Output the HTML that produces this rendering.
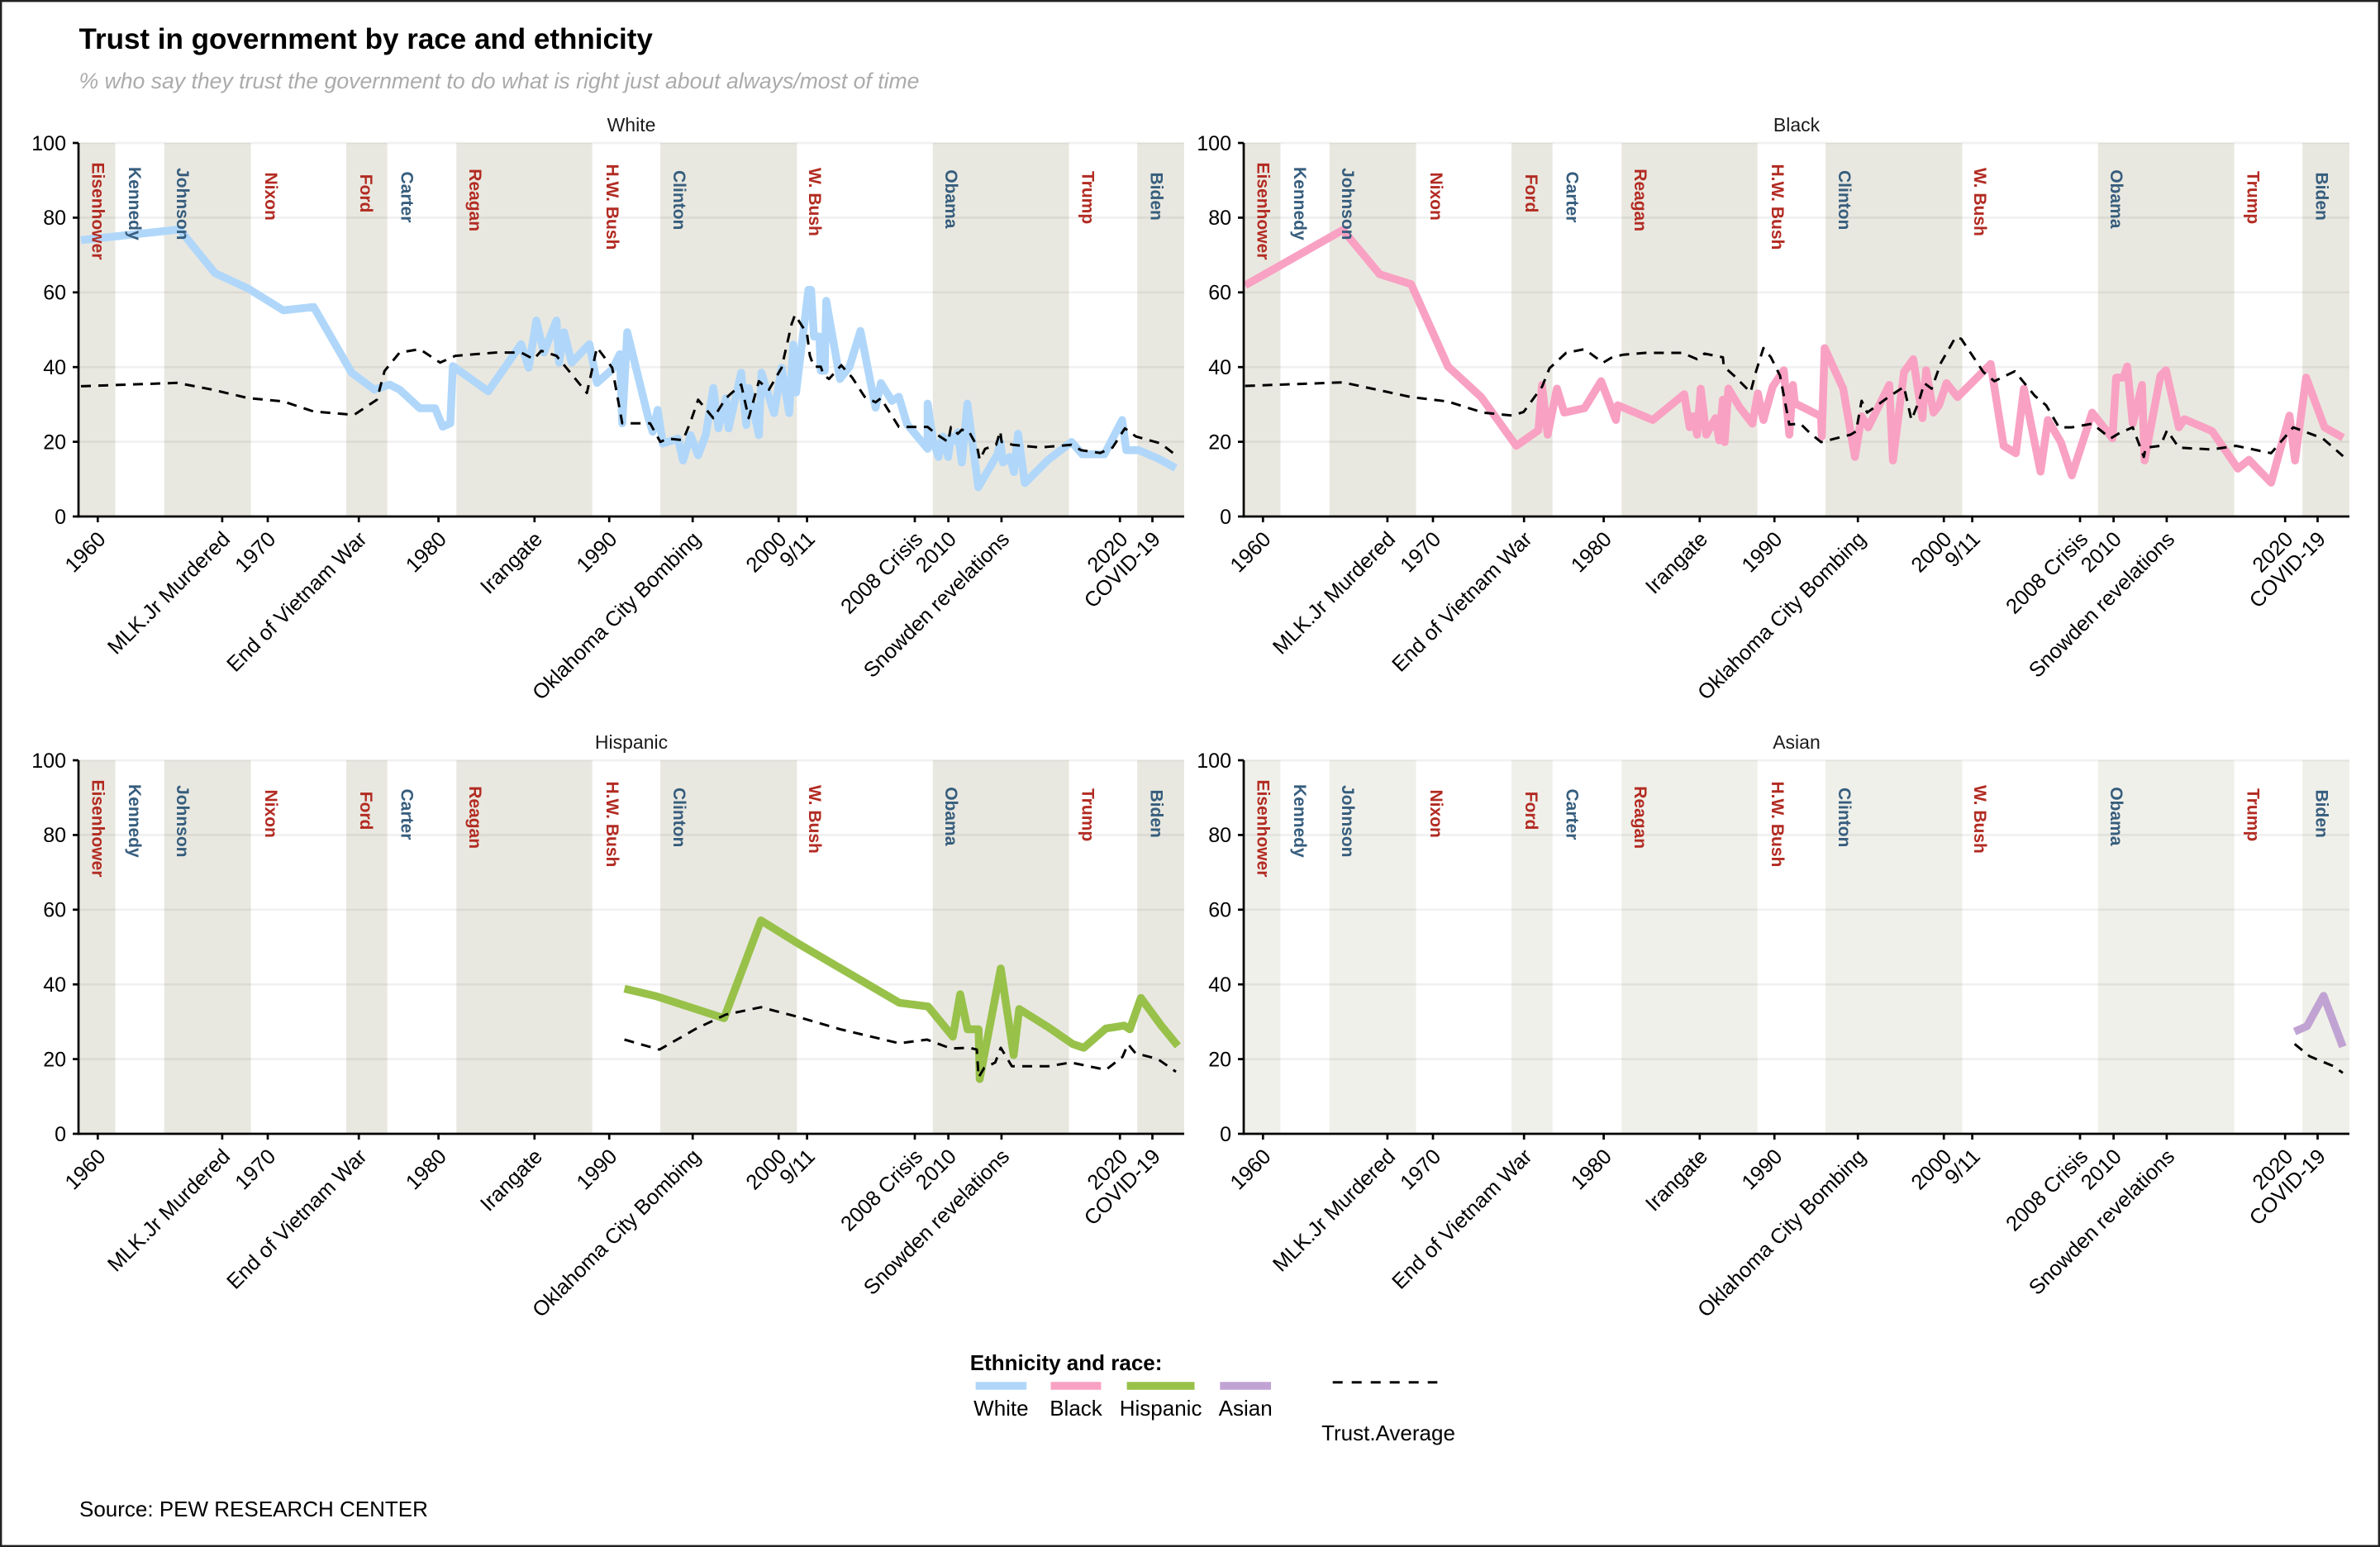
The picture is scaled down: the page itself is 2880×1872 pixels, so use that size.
<!DOCTYPE html>
<html><head><meta charset="utf-8"><style>
html,body{margin:0;padding:0;background:#fff;}
svg{display:block;font-family:"Liberation Sans",Arial,sans-serif;}
.sh rect{fill:#E9E8E0;}
.sh4 rect{fill:#F0F0EA;}
.gr line{stroke:#000;stroke-opacity:0.055;stroke-width:2.7;}
.ser{fill:none;stroke-width:9.5;stroke-linejoin:round;stroke-linecap:butt;}
.avg{fill:none;stroke:#000;stroke-width:3;stroke-dasharray:12 9;stroke-linejoin:round;}
.R{fill:#B22B22;font-size:21px;font-weight:bold;}
.D{fill:#365D7D;font-size:21px;font-weight:bold;}
.ax line{stroke:#000;stroke-width:2.7;}
.yl text{font-size:25px;text-anchor:end;fill:#000;}
.xl text{font-size:25.5px;text-anchor:end;fill:#000;}
.st{font-size:23px;text-anchor:middle;fill:#1a1a1a;}
</style></head><body>
<svg width="2880" height="1872" viewBox="0 0 2880 1872" xmlns="http://www.w3.org/2000/svg">
<rect x="0" y="0" width="2880" height="1872" fill="#fff"/>
<rect x="1.2" y="1.2" width="2877.6" height="1869.6" fill="none" stroke="#222" stroke-width="2.4"/>
<text x="95.5" y="59" font-size="35" font-weight="bold" fill="#000">Trust in government by race and ethnicity</text>
<text x="95.5" y="107" font-size="26.6" font-style="italic" fill="#ABABAB">% who say they trust the government to do what is right just about always/most of time</text>

<!-- PANEL 1 White -->
<g transform="translate(0,0)">
<g class="sh"><rect x="95" y="173" width="44.5" height="452"/><rect x="198.7" y="173" width="104.9" height="452"/><rect x="419" y="173" width="49.7" height="452"/><rect x="552.3" y="173" width="164.4" height="452"/><rect x="799" y="173" width="165.5" height="452"/><rect x="1128.8" y="173" width="164.8" height="452"/><rect x="1376.2" y="173" width="56.8" height="452"/></g>
<g class="gr"><line x1="95" x2="1433" y1="173" y2="173"/><line x1="95" x2="1433" y1="263.4" y2="263.4"/><line x1="95" x2="1433" y1="353.8" y2="353.8"/><line x1="95" x2="1433" y1="444.2" y2="444.2"/><line x1="95" x2="1433" y1="534.6" y2="534.6"/></g>
<polyline class="ser" stroke="#B0D7FA" points="98,290.6 217.3,277.6 260.2,330.6 300,349 342.8,375.5 379.6,371.5 425.5,451 453,471.5 471.4,465.4 483.6,471.5 508,494 526.5,494 535.7,516.4 544.9,512.3 548,443 590.8,473.5 630.6,416.4 639.7,445 649,387.8 658,426.6 673.4,387.8 676.5,438.8 682.6,402 691.8,438.8 713.2,416.4 722.4,463.3 740.8,447 750,428.6 753,512.3 759,402 783.6,502 789.7,522.5 795.9,496 802,536.8 820.3,530.7 826.5,557.2 835.7,526.6 844.8,551 854,526.6 863.2,469.4 869.3,518.4 878.5,481.7 881.6,518.4 896.9,451 903,514.3 906,469.4 918.3,526.6 921.4,451 936.7,500 945.8,445 955,500 960,417 963.3,475 978.2,350.8 981.5,350.8 984.9,407.2 991.5,407.2 993.2,448.6 998,448.6 999.8,364 1016.4,458.6 1028,443.7 1041.2,400.5 1059.5,493.4 1066,463.5 1079.4,485.1 1087.7,480.1 1097.6,513.3 1122.5,543.1 1122.5,488.4 1129,533 1135.7,553 1140.7,528.2 1147.4,553 1150.7,528.2 1155.6,533.2 1159,523.2 1163.9,559.7 1170.6,488.4 1183.8,589.6 1207,549.8 1210.4,534.8 1213.7,559.7 1222,553 1227,571.3 1231.9,524.9 1240.2,584.6 1268.4,556.4 1296.6,534.8 1309.8,549.8 1336.4,549.8 1357.9,508.3 1362.9,544.8 1377.8,544.8 1401,554.7 1422.6,566.3"/>
<polyline class="avg" points="98,467.4 214.3,463.3 257,471.5 300,481.7 342.8,485.8 379.6,498 428.5,502 456,483.7 465.3,449 483.6,426.6 508,422.5 532.6,438.8 551,430.6 600,426.6 630.6,426.6 645.9,434.7 655,424.5 673.4,430.6 691.8,453 710.2,475.5 722.4,420.4 740.8,445 753,512.3 786.7,512.3 799,534.7 808,530.7 826.5,532.7 835.7,510.3 844.8,483.7 863.2,506 878.5,481.7 896.9,465.4 906,506 918.3,461.3 930.5,471.5 945.8,445 958,391.9 962,381 976.6,403.9 980,430.4 984.9,443.7 993.2,443.7 996.5,453.6 1003.1,458.6 1018,442 1031.3,457 1046.2,480.1 1059.5,486.8 1066.1,481.8 1071,490 1087.7,516.6 1122.5,516.6 1132.4,524.9 1147.4,534.8 1150.7,516.6 1159,524.9 1164,520 1172.2,521.6 1182.2,539.8 1185.5,556.4 1192.1,543.1 1205.4,538.2 1210.4,521.6 1212,534.8 1225.3,538.2 1258.4,541.5 1296.6,538.2 1308.2,544.8 1331.4,548.1 1346.3,541.5 1361.2,518.3 1374.5,528.2 1404.3,536.5 1419.3,548.1"/>
<g>
<text class="R" transform="translate(111.7,196.5) rotate(90)">Eisenhower</text>
<text class="D" transform="translate(155.8,202) rotate(90)">Kennedy</text>
<text class="D" transform="translate(214.1,203) rotate(90)">Johnson</text>
<text class="R" transform="translate(321.1,208.5) rotate(90)">Nixon</text>
<text class="R" transform="translate(435.9,210.7) rotate(90)">Ford</text>
<text class="D" transform="translate(485.5,207.5) rotate(90)">Carter</text>
<text class="R" transform="translate(568.1,204.2) rotate(90)">Reagan</text>
<text class="R" transform="translate(733.9,198.5) rotate(90)">H.W. Bush</text>
<text class="D" transform="translate(815.1,206) rotate(90)">Clinton</text>
<text class="R" transform="translate(978.9,203) rotate(90)">W. Bush</text>
<text class="D" transform="translate(1144.1,205.2) rotate(90)">Obama</text>
<text class="R" transform="translate(1309.3,207) rotate(90)">Trump</text>
<text class="D" transform="translate(1392.3,208.5) rotate(90)">Biden</text>
</g>
<g class="ax"><line x1="95" y1="173" x2="95" y2="626.3"/><line x1="93.7" y1="625" x2="1433" y2="625"/>
<line x1="88" x2="95" y1="625" y2="625"/><line x1="88" x2="95" y1="534.6" y2="534.6"/><line x1="88" x2="95" y1="444.2" y2="444.2"/><line x1="88" x2="95" y1="353.8" y2="353.8"/><line x1="88" x2="95" y1="263.4" y2="263.4"/><line x1="88" x2="95" y1="173" y2="173"/>
<line x1="118.3" x2="118.3" y1="625" y2="632"/><line x1="268.9" x2="268.9" y1="625" y2="632"/><line x1="324" x2="324" y1="625" y2="632"/><line x1="434.2" x2="434.2" y1="625" y2="632"/><line x1="530.6" x2="530.6" y1="625" y2="632"/><line x1="646.8" x2="646.8" y1="625" y2="632"/><line x1="737.2" x2="737.2" y1="625" y2="632"/><line x1="838.2" x2="838.2" y1="625" y2="632"/><line x1="942.2" x2="942.2" y1="625" y2="632"/><line x1="976.6" x2="976.6" y1="625" y2="632"/><line x1="1107" x2="1107" y1="625" y2="632"/><line x1="1147.6" x2="1147.6" y1="625" y2="632"/><line x1="1211.9" x2="1211.9" y1="625" y2="632"/><line x1="1355.2" x2="1355.2" y1="625" y2="632"/><line x1="1394.5" x2="1394.5" y1="625" y2="632"/></g>
<g class="yl"><text x="80" y="633.8">0</text><text x="80" y="543.4">20</text><text x="80" y="453">40</text><text x="80" y="362.6">60</text><text x="80" y="272.2">80</text><text x="80" y="181.8">100</text></g>
<g class="xl">
<text transform="translate(129.3,654) rotate(-45)">1960</text>
<text transform="translate(279.9,654) rotate(-45)">MLK.Jr Murdered</text>
<text transform="translate(335,654) rotate(-45)">1970</text>
<text transform="translate(445.2,654) rotate(-45)">End of Vietnam War</text>
<text transform="translate(541.6,654) rotate(-45)">1980</text>
<text transform="translate(657.8,654) rotate(-45)">Irangate</text>
<text transform="translate(748.2,654) rotate(-45)">1990</text>
<text transform="translate(849.2,654) rotate(-45)">Oklahoma City Bombing</text>
<text transform="translate(953.2,654) rotate(-45)">2000</text>
<text transform="translate(987.6,654) rotate(-45)">9/11</text>
<text transform="translate(1118,654) rotate(-45)">2008 Crisis</text>
<text transform="translate(1158.6,654) rotate(-45)">2010</text>
<text transform="translate(1222.9,654) rotate(-45)">Snowden revelations</text>
<text transform="translate(1366.2,654) rotate(-45)">2020</text>
<text transform="translate(1405.5,654) rotate(-45)">COVID-19</text>
</g>
<text class="st" x="764" y="159">White</text>
</g>

<!-- PANEL 2 Black -->
<g transform="translate(1410,0)">
<g class="sh"><rect x="95" y="173" width="44.5" height="452"/><rect x="198.7" y="173" width="104.9" height="452"/><rect x="419" y="173" width="49.7" height="452"/><rect x="552.3" y="173" width="164.4" height="452"/><rect x="799" y="173" width="165.5" height="452"/><rect x="1128.8" y="173" width="164.8" height="452"/><rect x="1376.2" y="173" width="56.8" height="452"/></g>
<g class="gr"><line x1="95" x2="1433" y1="173" y2="173"/><line x1="95" x2="1433" y1="263.4" y2="263.4"/><line x1="95" x2="1433" y1="353.8" y2="353.8"/><line x1="95" x2="1433" y1="444.2" y2="444.2"/><line x1="95" x2="1433" y1="534.6" y2="534.6"/></g>
<polyline class="ser" stroke="#F9A1C3" points="96.7,345.3 215,278.3 259.6,331.9 297.6,343.9 342.2,443.5 382.4,480.5 424.8,539.5 451.6,520.7 456,465.8 462.8,526 474,470.3 482.9,499.3 507.4,493.9 527.5,461.3 545.4,508.2 547.6,490.4 590,508.2 628,477 634.6,517 639.1,503.8 643.6,526 648,470.3 654.7,526 665.9,506 670.4,532.8 674.8,483.7 677,535 681.5,470.3 694.9,492.6 710.5,512.7 717.2,476 723.9,508.2 735,468 748.5,448 755.2,526 759.6,465.8 761.9,488 793.6,503.8 794.5,528.3 798,421.2 820.4,470.3 834.6,552.9 842.7,503.8 850.7,517.1 876.2,465.8 880.6,557.3 894,450.2 905.2,434.6 916.3,506 920.8,448 929.7,499.3 936.4,490.4 945.4,463.6 958.8,480.5 998.9,440.4 1014.6,539.5 1029.3,548.4 1039.1,470.3 1059.2,570.7 1068.1,508.2 1083.8,535 1097.1,575.2 1121.7,499.3 1146.3,530.5 1150.7,456.9 1159.6,456.9 1164.1,443.5 1170.8,512.7 1182,465.8 1185.1,557.3 1204.3,454.6 1211,448 1226.6,517.1 1233.3,507.3 1266.8,521.6 1298,567.1 1311.4,556.4 1338.2,584.1 1360.5,502.9 1367.2,557.3 1380.6,456.9 1402.9,517.1 1425.3,529.6"/>
<polyline class="avg" points="96.7,467 215,462.7 297.6,480.5 342.2,485.9 384.6,499.3 420.4,502.9 433.8,498.4 456,468 465,445.7 485.1,427 507.4,422.5 529.7,439 540.9,432.3 554.3,429.2 581.1,427 625.7,427 643.6,434.6 652.5,427.9 674.8,432.3 676,443.5 688.4,454.6 708.3,474.7 715,449.3 723.9,421.2 732.9,432.3 744,454.6 755.2,513.7 768.6,512.7 780,523.8 793.6,535 829.3,526 836,522 842.7,485 849.4,499.3 873.9,481.4 894,468 903,508.2 911.9,486 918.6,463.6 927.5,470.3 938.7,439 956.5,407.8 963.2,410 990,450.2 1003.4,461.3 1028,449.3 1052.5,479.2 1065.9,490.4 1081.5,517.1 1097.1,517.1 1121.7,512.7 1144,530.5 1155.2,523.8 1170.8,517.1 1184.2,552.9 1186.4,541.7 1204.3,539.5 1212.3,520.7 1226.6,541.7 1266.8,543.9 1295.8,539.5 1338.2,548.4 1365,517.1 1400.7,530.5 1425.3,552"/>
<g>
<text class="R" transform="translate(111.7,196.5) rotate(90)">Eisenhower</text>
<text class="D" transform="translate(155.8,202) rotate(90)">Kennedy</text>
<text class="D" transform="translate(214.1,203) rotate(90)">Johnson</text>
<text class="R" transform="translate(321.1,208.5) rotate(90)">Nixon</text>
<text class="R" transform="translate(435.9,210.7) rotate(90)">Ford</text>
<text class="D" transform="translate(485.5,207.5) rotate(90)">Carter</text>
<text class="R" transform="translate(568.1,204.2) rotate(90)">Reagan</text>
<text class="R" transform="translate(733.9,198.5) rotate(90)">H.W. Bush</text>
<text class="D" transform="translate(815.1,206) rotate(90)">Clinton</text>
<text class="R" transform="translate(978.9,203) rotate(90)">W. Bush</text>
<text class="D" transform="translate(1144.1,205.2) rotate(90)">Obama</text>
<text class="R" transform="translate(1309.3,207) rotate(90)">Trump</text>
<text class="D" transform="translate(1392.3,208.5) rotate(90)">Biden</text>
</g>
<g class="ax"><line x1="95" y1="173" x2="95" y2="626.3"/><line x1="93.7" y1="625" x2="1433" y2="625"/>
<line x1="88" x2="95" y1="625" y2="625"/><line x1="88" x2="95" y1="534.6" y2="534.6"/><line x1="88" x2="95" y1="444.2" y2="444.2"/><line x1="88" x2="95" y1="353.8" y2="353.8"/><line x1="88" x2="95" y1="263.4" y2="263.4"/><line x1="88" x2="95" y1="173" y2="173"/>
<line x1="118.3" x2="118.3" y1="625" y2="632"/><line x1="268.9" x2="268.9" y1="625" y2="632"/><line x1="324" x2="324" y1="625" y2="632"/><line x1="434.2" x2="434.2" y1="625" y2="632"/><line x1="530.6" x2="530.6" y1="625" y2="632"/><line x1="646.8" x2="646.8" y1="625" y2="632"/><line x1="737.2" x2="737.2" y1="625" y2="632"/><line x1="838.2" x2="838.2" y1="625" y2="632"/><line x1="942.2" x2="942.2" y1="625" y2="632"/><line x1="976.6" x2="976.6" y1="625" y2="632"/><line x1="1107" x2="1107" y1="625" y2="632"/><line x1="1147.6" x2="1147.6" y1="625" y2="632"/><line x1="1211.9" x2="1211.9" y1="625" y2="632"/><line x1="1355.2" x2="1355.2" y1="625" y2="632"/><line x1="1394.5" x2="1394.5" y1="625" y2="632"/></g>
<g class="yl"><text x="80" y="633.8">0</text><text x="80" y="543.4">20</text><text x="80" y="453">40</text><text x="80" y="362.6">60</text><text x="80" y="272.2">80</text><text x="80" y="181.8">100</text></g>
<g class="xl">
<text transform="translate(129.3,654) rotate(-45)">1960</text>
<text transform="translate(279.9,654) rotate(-45)">MLK.Jr Murdered</text>
<text transform="translate(335,654) rotate(-45)">1970</text>
<text transform="translate(445.2,654) rotate(-45)">End of Vietnam War</text>
<text transform="translate(541.6,654) rotate(-45)">1980</text>
<text transform="translate(657.8,654) rotate(-45)">Irangate</text>
<text transform="translate(748.2,654) rotate(-45)">1990</text>
<text transform="translate(849.2,654) rotate(-45)">Oklahoma City Bombing</text>
<text transform="translate(953.2,654) rotate(-45)">2000</text>
<text transform="translate(987.6,654) rotate(-45)">9/11</text>
<text transform="translate(1118,654) rotate(-45)">2008 Crisis</text>
<text transform="translate(1158.6,654) rotate(-45)">2010</text>
<text transform="translate(1222.9,654) rotate(-45)">Snowden revelations</text>
<text transform="translate(1366.2,654) rotate(-45)">2020</text>
<text transform="translate(1405.5,654) rotate(-45)">COVID-19</text>
</g>
<text class="st" x="764" y="159">Black</text>
</g>

<!-- PANEL 3 Hispanic -->
<g transform="translate(0,747)">
<g class="sh"><rect x="95" y="173" width="44.5" height="452"/><rect x="198.7" y="173" width="104.9" height="452"/><rect x="419" y="173" width="49.7" height="452"/><rect x="552.3" y="173" width="164.4" height="452"/><rect x="799" y="173" width="165.5" height="452"/><rect x="1128.8" y="173" width="164.8" height="452"/><rect x="1376.2" y="173" width="56.8" height="452"/></g>
<g class="gr"><line x1="95" x2="1433" y1="173" y2="173"/><line x1="95" x2="1433" y1="263.4" y2="263.4"/><line x1="95" x2="1433" y1="353.8" y2="353.8"/><line x1="95" x2="1433" y1="444.2" y2="444.2"/><line x1="95" x2="1433" y1="534.6" y2="534.6"/></g>
<polyline class="ser" stroke="#98C14A" points="755.6,449.4 793.6,458.4 876.2,485.1 920.8,366.8 967.7,395.9 1088.2,466.4 1123,470.9 1153,507.5 1161.9,456.1 1170.8,498.5 1184.2,498.5 1185.5,558.8 1211,424.9 1226.6,529.8 1233.3,474 1269,496.3 1298,516.4 1311.4,520.9 1338.2,497.6 1360.5,494.1 1367.2,498.5 1380.6,460.6 1405.2,494.1 1425.3,518.6"/>
<polyline class="avg" points="755.6,511 798,523.1 842.7,497.6 878.4,480.7 920.8,471.8 963.2,482.9 1016.8,498.5 1088.2,515.5 1121.7,511 1150.7,521.8 1173,520.9 1182,523.1 1184.2,556.6 1190.9,545.4 1204.3,538.7 1211,520.9 1224.4,543.2 1269,543.2 1295.8,538.7 1338.2,547.6 1358.3,532 1365,516.4 1374.1,527.6 1400.7,534.3 1423,549.9"/>
<g>
<text class="R" transform="translate(111.7,196.5) rotate(90)">Eisenhower</text>
<text class="D" transform="translate(155.8,202) rotate(90)">Kennedy</text>
<text class="D" transform="translate(214.1,203) rotate(90)">Johnson</text>
<text class="R" transform="translate(321.1,208.5) rotate(90)">Nixon</text>
<text class="R" transform="translate(435.9,210.7) rotate(90)">Ford</text>
<text class="D" transform="translate(485.5,207.5) rotate(90)">Carter</text>
<text class="R" transform="translate(568.1,204.2) rotate(90)">Reagan</text>
<text class="R" transform="translate(733.9,198.5) rotate(90)">H.W. Bush</text>
<text class="D" transform="translate(815.1,206) rotate(90)">Clinton</text>
<text class="R" transform="translate(978.9,203) rotate(90)">W. Bush</text>
<text class="D" transform="translate(1144.1,205.2) rotate(90)">Obama</text>
<text class="R" transform="translate(1309.3,207) rotate(90)">Trump</text>
<text class="D" transform="translate(1392.3,208.5) rotate(90)">Biden</text>
</g>
<g class="ax"><line x1="95" y1="173" x2="95" y2="626.3"/><line x1="93.7" y1="625" x2="1433" y2="625"/>
<line x1="88" x2="95" y1="625" y2="625"/><line x1="88" x2="95" y1="534.6" y2="534.6"/><line x1="88" x2="95" y1="444.2" y2="444.2"/><line x1="88" x2="95" y1="353.8" y2="353.8"/><line x1="88" x2="95" y1="263.4" y2="263.4"/><line x1="88" x2="95" y1="173" y2="173"/>
<line x1="118.3" x2="118.3" y1="625" y2="632"/><line x1="268.9" x2="268.9" y1="625" y2="632"/><line x1="324" x2="324" y1="625" y2="632"/><line x1="434.2" x2="434.2" y1="625" y2="632"/><line x1="530.6" x2="530.6" y1="625" y2="632"/><line x1="646.8" x2="646.8" y1="625" y2="632"/><line x1="737.2" x2="737.2" y1="625" y2="632"/><line x1="838.2" x2="838.2" y1="625" y2="632"/><line x1="942.2" x2="942.2" y1="625" y2="632"/><line x1="976.6" x2="976.6" y1="625" y2="632"/><line x1="1107" x2="1107" y1="625" y2="632"/><line x1="1147.6" x2="1147.6" y1="625" y2="632"/><line x1="1211.9" x2="1211.9" y1="625" y2="632"/><line x1="1355.2" x2="1355.2" y1="625" y2="632"/><line x1="1394.5" x2="1394.5" y1="625" y2="632"/></g>
<g class="yl"><text x="80" y="633.8">0</text><text x="80" y="543.4">20</text><text x="80" y="453">40</text><text x="80" y="362.6">60</text><text x="80" y="272.2">80</text><text x="80" y="181.8">100</text></g>
<g class="xl">
<text transform="translate(129.3,654) rotate(-45)">1960</text>
<text transform="translate(279.9,654) rotate(-45)">MLK.Jr Murdered</text>
<text transform="translate(335,654) rotate(-45)">1970</text>
<text transform="translate(445.2,654) rotate(-45)">End of Vietnam War</text>
<text transform="translate(541.6,654) rotate(-45)">1980</text>
<text transform="translate(657.8,654) rotate(-45)">Irangate</text>
<text transform="translate(748.2,654) rotate(-45)">1990</text>
<text transform="translate(849.2,654) rotate(-45)">Oklahoma City Bombing</text>
<text transform="translate(953.2,654) rotate(-45)">2000</text>
<text transform="translate(987.6,654) rotate(-45)">9/11</text>
<text transform="translate(1118,654) rotate(-45)">2008 Crisis</text>
<text transform="translate(1158.6,654) rotate(-45)">2010</text>
<text transform="translate(1222.9,654) rotate(-45)">Snowden revelations</text>
<text transform="translate(1366.2,654) rotate(-45)">2020</text>
<text transform="translate(1405.5,654) rotate(-45)">COVID-19</text>
</g>
<text class="st" x="764" y="159">Hispanic</text>
</g>

<!-- PANEL 4 Asian -->
<g transform="translate(1410,747)">
<g class="sh4"><rect x="95" y="173" width="44.5" height="452"/><rect x="198.7" y="173" width="104.9" height="452"/><rect x="419" y="173" width="49.7" height="452"/><rect x="552.3" y="173" width="164.4" height="452"/><rect x="799" y="173" width="165.5" height="452"/><rect x="1128.8" y="173" width="164.8" height="452"/><rect x="1376.2" y="173" width="56.8" height="452"/></g>
<g class="gr"><line x1="95" x2="1433" y1="173" y2="173"/><line x1="95" x2="1433" y1="263.4" y2="263.4"/><line x1="95" x2="1433" y1="353.8" y2="353.8"/><line x1="95" x2="1433" y1="444.2" y2="444.2"/><line x1="95" x2="1433" y1="534.6" y2="534.6"/></g>
<polyline class="ser" stroke="#C1A3D3" points="1366.7,501.3 1381.7,494.7 1401.7,458 1425,519.7"/>
<polyline class="avg" points="1366.7,516.3 1385,531.3 1413.3,543 1425,551.3"/>
<g>
<text class="R" transform="translate(111.7,196.5) rotate(90)">Eisenhower</text>
<text class="D" transform="translate(155.8,202) rotate(90)">Kennedy</text>
<text class="D" transform="translate(214.1,203) rotate(90)">Johnson</text>
<text class="R" transform="translate(321.1,208.5) rotate(90)">Nixon</text>
<text class="R" transform="translate(435.9,210.7) rotate(90)">Ford</text>
<text class="D" transform="translate(485.5,207.5) rotate(90)">Carter</text>
<text class="R" transform="translate(568.1,204.2) rotate(90)">Reagan</text>
<text class="R" transform="translate(733.9,198.5) rotate(90)">H.W. Bush</text>
<text class="D" transform="translate(815.1,206) rotate(90)">Clinton</text>
<text class="R" transform="translate(978.9,203) rotate(90)">W. Bush</text>
<text class="D" transform="translate(1144.1,205.2) rotate(90)">Obama</text>
<text class="R" transform="translate(1309.3,207) rotate(90)">Trump</text>
<text class="D" transform="translate(1392.3,208.5) rotate(90)">Biden</text>
</g>
<g class="ax"><line x1="95" y1="173" x2="95" y2="626.3"/><line x1="93.7" y1="625" x2="1433" y2="625"/>
<line x1="88" x2="95" y1="625" y2="625"/><line x1="88" x2="95" y1="534.6" y2="534.6"/><line x1="88" x2="95" y1="444.2" y2="444.2"/><line x1="88" x2="95" y1="353.8" y2="353.8"/><line x1="88" x2="95" y1="263.4" y2="263.4"/><line x1="88" x2="95" y1="173" y2="173"/>
<line x1="118.3" x2="118.3" y1="625" y2="632"/><line x1="268.9" x2="268.9" y1="625" y2="632"/><line x1="324" x2="324" y1="625" y2="632"/><line x1="434.2" x2="434.2" y1="625" y2="632"/><line x1="530.6" x2="530.6" y1="625" y2="632"/><line x1="646.8" x2="646.8" y1="625" y2="632"/><line x1="737.2" x2="737.2" y1="625" y2="632"/><line x1="838.2" x2="838.2" y1="625" y2="632"/><line x1="942.2" x2="942.2" y1="625" y2="632"/><line x1="976.6" x2="976.6" y1="625" y2="632"/><line x1="1107" x2="1107" y1="625" y2="632"/><line x1="1147.6" x2="1147.6" y1="625" y2="632"/><line x1="1211.9" x2="1211.9" y1="625" y2="632"/><line x1="1355.2" x2="1355.2" y1="625" y2="632"/><line x1="1394.5" x2="1394.5" y1="625" y2="632"/></g>
<g class="yl"><text x="80" y="633.8">0</text><text x="80" y="543.4">20</text><text x="80" y="453">40</text><text x="80" y="362.6">60</text><text x="80" y="272.2">80</text><text x="80" y="181.8">100</text></g>
<g class="xl">
<text transform="translate(129.3,654) rotate(-45)">1960</text>
<text transform="translate(279.9,654) rotate(-45)">MLK.Jr Murdered</text>
<text transform="translate(335,654) rotate(-45)">1970</text>
<text transform="translate(445.2,654) rotate(-45)">End of Vietnam War</text>
<text transform="translate(541.6,654) rotate(-45)">1980</text>
<text transform="translate(657.8,654) rotate(-45)">Irangate</text>
<text transform="translate(748.2,654) rotate(-45)">1990</text>
<text transform="translate(849.2,654) rotate(-45)">Oklahoma City Bombing</text>
<text transform="translate(953.2,654) rotate(-45)">2000</text>
<text transform="translate(987.6,654) rotate(-45)">9/11</text>
<text transform="translate(1118,654) rotate(-45)">2008 Crisis</text>
<text transform="translate(1158.6,654) rotate(-45)">2010</text>
<text transform="translate(1222.9,654) rotate(-45)">Snowden revelations</text>
<text transform="translate(1366.2,654) rotate(-45)">2020</text>
<text transform="translate(1405.5,654) rotate(-45)">COVID-19</text>
</g>
<text class="st" x="764" y="159">Asian</text>
</g>

<!-- LEGEND -->
<text x="1173.8" y="1658" font-size="26" font-weight="bold" fill="#000">Ethnicity and race:</text>
<line x1="1180.6" x2="1242.2" y1="1677" y2="1677" stroke="#B0D7FA" stroke-width="9.5"/>
<line x1="1271.5" x2="1332.4" y1="1677" y2="1677" stroke="#F9A1C3" stroke-width="9.5"/>
<line x1="1363.6" x2="1445.5" y1="1677" y2="1677" stroke="#98C14A" stroke-width="9.5"/>
<line x1="1476.3" x2="1538" y1="1677" y2="1677" stroke="#C1A3D3" stroke-width="9.5"/>
<g font-size="26" text-anchor="middle" fill="#000">
<text x="1211.4" y="1713">White</text>
<text x="1302" y="1713">Black</text>
<text x="1404.6" y="1713">Hispanic</text>
<text x="1507.2" y="1713">Asian</text>
<text x="1680" y="1743">Trust.Average</text>
</g>
<line x1="1612.7" x2="1739.3" y1="1672.7" y2="1672.7" stroke="#000" stroke-width="3" stroke-dasharray="12 11"/>

<text x="96" y="1835" font-size="26" fill="#000">Source: PEW RESEARCH CENTER</text>
</svg>
</body></html>
